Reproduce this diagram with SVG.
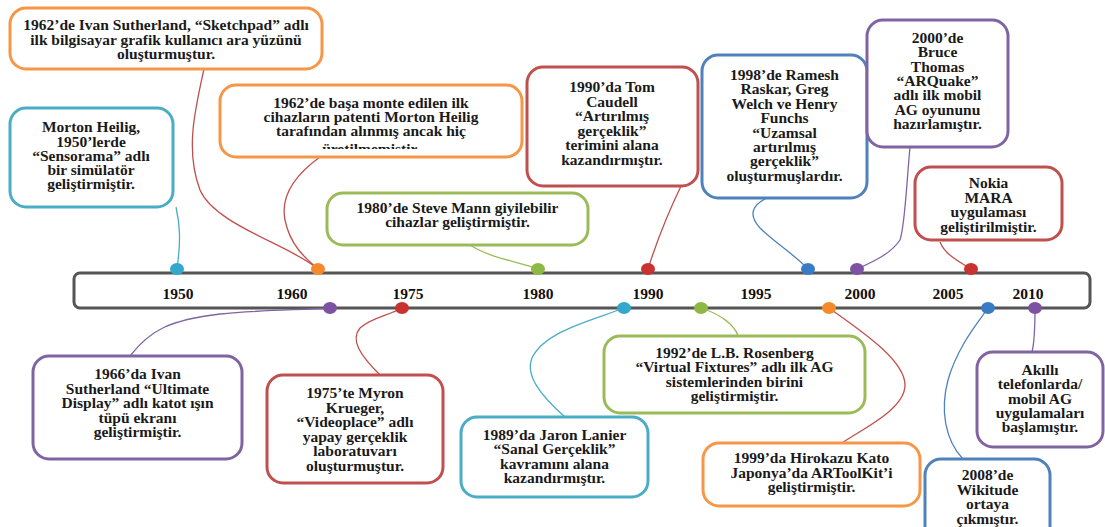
<svg xmlns="http://www.w3.org/2000/svg" width="1105" height="527" viewBox="0 0 1105 527">
<style>
.box{fill:#fff;stroke-width:3}
.t{font-family:"Liberation Serif","Times New Roman",serif;font-size:15.5px;font-weight:bold;fill:#1a1a1a;text-anchor:middle}
.yr{font-family:"Liberation Serif","Times New Roman",serif;font-size:15.5px;font-weight:bold;fill:#111;text-anchor:middle}
.c{fill:none;stroke-width:1.3}
.or{stroke:#f79646}.cy{stroke:#4bacc6}.gr{stroke:#9bbb59}.rd{stroke:#c0504d}.pu{stroke:#8064a2}.bl{stroke:#4f81bd}
</style>
<defs>
<clipPath id="clipBasa"><rect x="220" y="85" width="302" height="64"/></clipPath>
</defs>
<rect x="0" y="0" width="1105" height="527" fill="#fff"/>
<g id="timeline">
<rect x="74" y="273" width="1016" height="35" rx="6" fill="#fff" stroke="#555" stroke-width="3"/>
<text class="yr" x="178" y="299">1950</text>
<text class="yr" x="292" y="299">1960</text>
<text class="yr" x="408" y="299">1975</text>
<text class="yr" x="538" y="299">1980</text>
<text class="yr" x="648" y="299">1990</text>
<text class="yr" x="756" y="299">1995</text>
<text class="yr" x="860" y="299">2000</text>
<text class="yr" x="948" y="299">2005</text>
<text class="yr" x="1028" y="299">2010</text>
</g>
<g id="connectors">
<path class="c cy" d="M176,207 C180,225 181,240 177,269"/>
<path class="c rd" d="M204,69 C195,110 185,150 200,190 C215,225 290,245 318,269"/>
<path class="c rd" d="M320,157 C295,175 280,195 285,220 C290,245 305,258 318,269"/>
<path class="c gr" d="M470,245 C490,258 520,262 538,269"/>
<path class="c rd" d="M682,184 Q662,225 648,269"/>
<path class="c bl" d="M767,198 C752,205 748,215 760,228 C775,243 795,255 808,269"/>
<path class="c pu" d="M910,147 C906,190 905,225 900,240 C890,255 870,263 857,269"/>
<path class="c rd" d="M940,242 C945,255 960,262 971,269"/>
<path class="c pu" d="M130,356 C150,330 170,320 220,314 C260,310 300,310 330,308"/>
<path class="c rd" d="M380,375 C360,355 350,340 360,328 C370,318 390,315 402,308"/>
<path class="c cy" d="M565,417 C540,395 525,375 532,358 C545,330 600,318 624,308"/>
<path class="c gr" d="M738,336 C735,325 720,314 701,308"/>
<path class="c rd" d="M829,308 C860,330 905,360 905,385 C905,410 860,430 842,443"/>
<path class="c bl" d="M963,459 C945,440 940,410 948,380 C958,345 980,320 988,308"/>
<path class="c pu" d="M1032,352 C1035,340 1035,320 1035,308"/>
</g>
<g id="dots">
<ellipse cx="177" cy="269" rx="7" ry="6" fill="#31a8cc"/>
<ellipse cx="318" cy="269" rx="7" ry="6" fill="#f58a2b"/>
<ellipse cx="538" cy="269" rx="7" ry="6" fill="#8db843"/>
<ellipse cx="648" cy="269" rx="7" ry="6" fill="#c8322f"/>
<ellipse cx="808" cy="269" rx="7" ry="6" fill="#3a7cc4"/>
<ellipse cx="857" cy="269" rx="7" ry="6" fill="#7d52a3"/>
<ellipse cx="971" cy="269" rx="7" ry="6" fill="#c8322f"/>
<ellipse cx="330" cy="308" rx="7" ry="6" fill="#7d52a3"/>
<ellipse cx="402" cy="308" rx="7" ry="6" fill="#c8322f"/>
<ellipse cx="624" cy="308" rx="7" ry="6" fill="#31a8cc"/>
<ellipse cx="701" cy="308" rx="7" ry="6" fill="#8db843"/>
<ellipse cx="829" cy="308" rx="7" ry="6" fill="#f58a2b"/>
<ellipse cx="988" cy="308" rx="7" ry="6" fill="#3a7cc4"/>
<ellipse cx="1035" cy="308" rx="7" ry="6" fill="#7d52a3"/>
</g>
<g id="n1962-sketchpad">
<rect class="box or" x="10" y="8" width="312" height="61" rx="16"/>
<text class="t"><tspan x="166" y="30">1962’de Ivan Sutherland, “Sketchpad” adlı</tspan><tspan x="166" y="44.5">ilk bilgisayar grafik kullanıcı ara yüzünü</tspan><tspan x="166" y="58.5">oluşturmuştur.</tspan></text>
</g>
<g id="n1950-sensorama">
<rect class="box cy" x="10" y="108" width="163" height="99" rx="16"/>
<text class="t"><tspan x="91" y="132">Morton Heilig,</tspan><tspan x="91" y="146.5">1950’lerde</tspan><tspan x="91" y="160.5">“Sensorama” adlı</tspan><tspan x="91" y="174.5">bir simülatör</tspan><tspan x="91" y="188.5">geliştirmiştir.</tspan></text>
</g>
<g id="n1962-patent">
<rect class="box or" x="220" y="85" width="302" height="72" rx="16"/>
<text class="t" clip-path="url(#clipBasa)"><tspan x="371" y="108">1962’de başa monte edilen ilk</tspan><tspan x="371" y="122">cihazların patenti Morton Heilig</tspan><tspan x="371" y="136">tarafından alınmış ancak hiç</tspan><tspan x="371" y="154">üretilmemiştir.</tspan></text>
</g>
<g id="n1980">
<rect class="box gr" x="327" y="193" width="261" height="52" rx="16"/>
<text class="t"><tspan x="457.5" y="213">1980’de Steve Mann giyilebilir</tspan><tspan x="457.5" y="227">cihazlar geliştirmiştir.</tspan></text>
</g>
<g id="n1990">
<rect class="box rd" x="527" y="67" width="171" height="119" rx="16"/>
<text class="t"><tspan x="612" y="92">1990’da Tom</tspan><tspan x="612" y="106.5">Caudell</tspan><tspan x="612" y="121">“Artırılmış</tspan><tspan x="612" y="135.5">gerçeklik”</tspan><tspan x="612" y="150">terimini alana</tspan><tspan x="612" y="164.5">kazandırmıştır.</tspan></text>
</g>
<g id="n1998">
<rect class="box bl" x="702" y="55" width="165" height="143" rx="16"/>
<text class="t"><tspan x="784.5" y="80">1998’de Ramesh</tspan><tspan x="784.5" y="94.4">Raskar, Greg</tspan><tspan x="784.5" y="108.8">Welch ve Henry</tspan><tspan x="784.5" y="123.2">Funchs</tspan><tspan x="784.5" y="137.6">“Uzamsal</tspan><tspan x="784.5" y="152">artırılmış</tspan><tspan x="784.5" y="166.4">gerçeklik”</tspan><tspan x="784.5" y="180.8">oluşturmuşlardır.</tspan></text>
</g>
<g id="n2000">
<rect class="box pu" x="867" y="20" width="141" height="127" rx="16"/>
<text class="t"><tspan x="937.5" y="43">2000’de</tspan><tspan x="937.5" y="57.3">Bruce</tspan><tspan x="937.5" y="71.6">Thomas</tspan><tspan x="937.5" y="85.9">“ARQuake”</tspan><tspan x="937.5" y="100.2">adlı ilk mobil</tspan><tspan x="937.5" y="114.5">AG oyununu</tspan><tspan x="937.5" y="128.8">hazırlamıştır.</tspan></text>
</g>
<g id="n2006-nokia">
<rect class="box rd" x="915" y="167" width="147" height="73" rx="16"/>
<text class="t"><tspan x="988.5" y="188">Nokia</tspan><tspan x="988.5" y="202.5">MARA</tspan><tspan x="988.5" y="217">uygulaması</tspan><tspan x="988.5" y="231.5">geliştirilmiştir.</tspan></text>
</g>
<g id="n1966">
<rect class="box pu" x="33" y="356" width="209" height="103" rx="16"/>
<text class="t"><tspan x="137.5" y="379">1966’da Ivan</tspan><tspan x="137.5" y="393.5">Sutherland “Ultimate</tspan><tspan x="137.5" y="408">Display” adlı katot ışın</tspan><tspan x="137.5" y="422.5">tüpü ekranı</tspan><tspan x="137.5" y="437">geliştirmiştir.</tspan></text>
</g>
<g id="n1975">
<rect class="box rd" x="267" y="375" width="176" height="108" rx="16"/>
<text class="t"><tspan x="355" y="398">1975’te Myron</tspan><tspan x="355" y="412.5">Krueger,</tspan><tspan x="355" y="427">“Videoplace” adlı</tspan><tspan x="355" y="441.5">yapay gerçeklik</tspan><tspan x="355" y="456">laboratuvarı</tspan><tspan x="355" y="470.5">oluşturmuştur.</tspan></text>
</g>
<g id="n1989">
<rect class="box cy" x="461" y="417" width="187" height="80" rx="16"/>
<text class="t"><tspan x="554.5" y="440">1989’da Jaron Lanier</tspan><tspan x="554.5" y="454.2">“Sanal Gerçeklik”</tspan><tspan x="554.5" y="468.5">kavramını alana</tspan><tspan x="554.5" y="482.8">kazandırmıştır.</tspan></text>
</g>
<g id="n1992">
<rect class="box gr" x="604" y="336" width="261" height="77" rx="16"/>
<text class="t"><tspan x="734.5" y="358">1992’de L.B. Rosenberg</tspan><tspan x="734.5" y="372.3">“Virtual Fixtures” adlı ilk AG</tspan><tspan x="734.5" y="386.6">sistemlerinden birini</tspan><tspan x="734.5" y="400.9">geliştirmiştir.</tspan></text>
</g>
<g id="n1999">
<rect class="box or" x="703" y="443" width="217" height="63" rx="16"/>
<text class="t"><tspan x="811.5" y="463">1999’da Hirokazu Kato</tspan><tspan x="811.5" y="477.5">Japonya’da ARToolKit’i</tspan><tspan x="811.5" y="492">geliştirmiştir.</tspan></text>
</g>
<g id="n2008">
<rect class="box bl" x="925" y="459" width="125" height="90" rx="16"/>
<text class="t"><tspan x="987.5" y="480">2008’de</tspan><tspan x="987.5" y="494.5">Wikitude</tspan><tspan x="987.5" y="509">ortaya</tspan><tspan x="987.5" y="523.5">çıkmıştır.</tspan></text>
</g>
<g id="n2010">
<rect class="box pu" x="977" y="352" width="126" height="95" rx="16"/>
<text class="t"><tspan x="1040" y="375">Akıllı</tspan><tspan x="1040" y="389.3">telefonlarda/</tspan><tspan x="1040" y="403.6">mobil AG</tspan><tspan x="1040" y="417.9">uygulamaları</tspan><tspan x="1040" y="432.2">başlamıştır.</tspan></text>
</g>
</svg>
